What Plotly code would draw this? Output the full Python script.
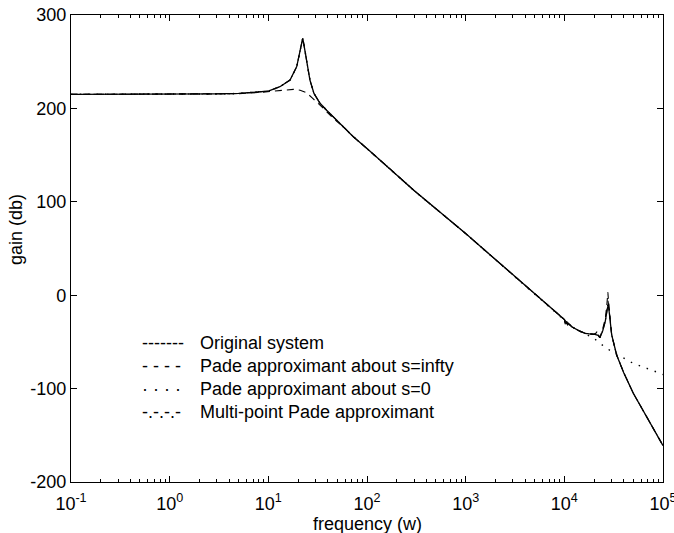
import plotly.graph_objects as go

# ---------------- data ----------------
w_orig = [0.1, 0.3, 1, 2, 3, 5, 8, 10, 13.1, 16.6, 19.4, 20.9, 21.8, 22.3, 22.8,
          23.5, 24.5, 26.4, 29, 33.4, 39, 45.5, 55, 72.6, 100, 158, 300, 1000,
          3000, 6000, 8000, 10000, 10500, 12000, 14000, 16200, 18000, 20400,
          22000, 22900, 24500, 26000, 27200, 27900, 28500, 30200, 33900, 40000,
          50000, 68000, 85000, 100000]
g_orig = [215, 215, 215, 215.2, 215.5, 216, 217.2, 218.5, 223.2, 230.4, 244.7,
          262.5, 270, 275, 270, 262.5, 248, 230.4, 216, 205.5, 198, 191.1, 182,
          169.7, 157, 138.6, 112, 66, 22, -5.6, -17, -26, -29, -34, -38, -40.8,
          -41.5, -41.9, -43, -45.5, -38, -28, -15, -10.5, -18, -42.6, -64, -83,
          -105, -130, -148, -161]

w_inf = [0.1, 1, 3, 5, 8, 11.2, 14, 17.9, 21, 24.4, 28, 33.4, 45.5, 60, 72.6,
         100, 158, 300, 1000, 3000, 6000, 8000, 10000, 10300, 10600, 10900,
         11200, 12000, 14000, 16200, 18000, 20400, 21500, 22200, 22900, 24500,
         26000, 27000, 27600, 28000, 29000, 30200, 33900, 40000, 50000, 68000,
         85000, 100000]
g_inf = [215, 215, 215.2, 215.8, 217, 218.5, 219.8, 220.4, 219.5, 216.8, 211,
         203.6, 189.4, 178.5, 169.7, 157, 138.6, 112, 66, 22, -5.6, -17, -26,
         -33, -28, -34, -31, -34, -38, -40.8, -41.5, -41.9, -39, -42, -45.5,
         -36, -25, -10, 3, -5, -25, -42.6, -64, -83, -105, -130, -148, -161]

w_zero = [0.1, 0.3, 1, 2, 3, 5, 8, 10, 13.1, 16.6, 19.4, 20.9, 21.8, 22.3, 22.8,
          23.5, 24.5, 26.4, 29, 33.4, 39, 45.5, 55, 72.6, 100, 158, 300, 1000,
          3000, 6000, 8000, 10000, 12000, 14000, 16200, 20000, 22000, 25000,
          27000, 30000, 40000, 50000, 60000, 70000, 85000, 100000]
g_zero = [215, 215, 215, 215.2, 215.5, 216, 217.2, 218.5, 223.2, 230.4, 244.7,
          262.5, 270, 275, 270, 262.5, 248, 230.4, 216, 205.5, 198, 191.1, 182,
          169.7, 157, 138.6, 112, 66, 22, -5.6, -17, -26, -34, -38, -41.5, -46,
          -50, -55, -57, -60, -67, -73, -76, -79, -82, -85]

w_multi = [0.1, 0.3, 1, 2, 3, 5, 8, 10, 13.1, 16.6, 19.4, 20.9, 21.8, 22.3, 22.8,
           23.5, 24.5, 26.4, 29, 33.4, 39, 45.5, 55, 72.6, 100, 158, 300, 1000,
           3000, 6000, 8000, 10000, 10200, 10400, 10700, 11000, 12000, 14000,
           16200, 18000, 20000, 21000, 21500, 21000, 22000, 22900, 24500, 26000,
           27200, 27700, 28200, 29000, 30200, 33900, 40000, 50000, 68000, 85000,
           100000]
g_multi = [215, 215, 215, 215.2, 215.5, 216, 217.2, 218.5, 223.2, 230.4, 244.7,
           262.5, 270, 275, 270, 262.5, 248, 230.4, 216, 205.5, 198, 191.1, 182,
           169.7, 157, 138.6, 112, 66, 22, -5.6, -17, -26, -31, -27, -33, -30,
           -34, -38, -40.8, -41.5, -41.9, -40, -38.5, -41, -42.5, -45.5, -38,
           -28, -15, -6, -12, -28, -42.6, -64, -83, -105, -130, -148, -161]

x_tick_vals = [0.1, 1, 10, 100, 1000, 10000, 100000]
x_tick_text = ["10<sup>-1</sup>", "10<sup>0</sup>", "10<sup>1</sup>", "10<sup>2</sup>",
               "10<sup>3</sup>", "10<sup>4</sup>", "10<sup>5</sup>"]
y_tick_vals = [-200, -100, 0, 100, 200, 300]
y_tick_text = ["-200", "-100", "0", "100", "200", "300"]
legend_marks = ["-------", "- - - -", "· · · ·", "-.-.-.-"]
legend_labels = ["Original system", "Pade approximant about s=infty",
                 "Pade approximant about s=0", "Multi-point Pade approximant"]

# ---------------- figure ----------------
FONT = "Liberation Sans, Arial, Helvetica, sans-serif"
FS = 18
fig = go.Figure()
fig.add_trace(go.Scatter(x=w_multi, y=g_multi, mode="lines",
                         line=dict(color="black", width=1.1, dash="6px,3px,1.5px,3px")))
fig.add_trace(go.Scatter(x=w_zero, y=g_zero, mode="lines",
                         line=dict(color="black", width=1.4, dash="1.5px,7px")))
fig.add_trace(go.Scatter(x=w_inf, y=g_inf, mode="lines",
                         line=dict(color="black", width=1.1, dash="7px,5px")))
fig.add_trace(go.Scatter(x=w_orig, y=g_orig, mode="lines",
                         line=dict(color="black", width=1.3)))

minor_vals = [k * 10 ** e for e in range(-1, 5) for k in range(2, 10)]

fig.update_layout(
    width=674, height=533,
    margin=dict(l=71, r=11, t=15, b=51, pad=0, autoexpand=False),
    paper_bgcolor="white", plot_bgcolor="white",
    showlegend=False,
    font=dict(family=FONT, size=FS, color="black"),
    xaxis=dict(type="log", range=[-1, 5], tickvals=x_tick_vals, ticktext=x_tick_text,
               ticks="inside", ticklen=6, tickcolor="black", tickwidth=1,
               showline=True, linecolor="black", linewidth=1.2, mirror="ticks",
               showgrid=False, zeroline=False, ticklabeloverflow="allow",
               ticklabelstandoff=5, automargin=False,
               minor=dict(tickvals=minor_vals, ticks="inside", ticklen=3,
                          tickcolor="black", showgrid=False),
               tickfont=dict(size=FS)),
    yaxis=dict(range=[-200, 300], tickvals=y_tick_vals, ticktext=y_tick_text,
               ticks="inside", ticklen=6, tickcolor="black", tickwidth=1,
               showline=True, linecolor="black", linewidth=1.2, mirror="ticks",
               showgrid=False, zeroline=False, tickfont=dict(size=FS),
               automargin=False),
)

# axis titles
fig.add_annotation(text="frequency (w)", xref="paper", yref="paper",
                   x=0.5, y=-0.0899, xanchor="center", yanchor="middle",
                   showarrow=False, font=dict(size=FS))
fig.add_annotation(text="gain (db)", xref="paper", yref="paper",
                   x=-0.0929, y=0.5396, xanchor="center", yanchor="middle",
                   textangle=-90, showarrow=False, font=dict(size=FS))

# text legend
rows_y = [0.2976, 0.2484, 0.1991, 0.1499]
for mark, label, yy in zip(legend_marks, legend_labels, rows_y):
    fig.add_annotation(text=mark, xref="paper", yref="paper", x=0.1166, y=yy,
                       xanchor="left", yanchor="middle", showarrow=False,
                       font=dict(size=FS))
    fig.add_annotation(text=label, xref="paper", yref="paper", x=0.2145, y=yy,
                       xanchor="left", yanchor="middle", showarrow=False,
                       font=dict(size=FS))

fig.write_html("out.html")
